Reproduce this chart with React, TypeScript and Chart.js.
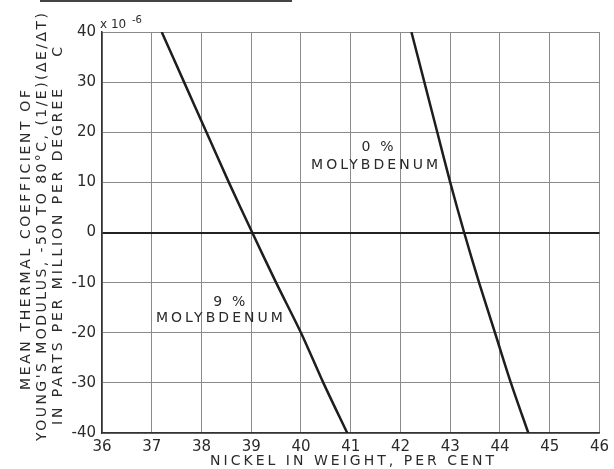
import React, { useEffect, useRef } from "react";
import { Chart, registerables } from "chart.js";

Chart.register(...registerables);

const xTicks = [36, 37, 38, 39, 40, 41, 42, 43, 44, 45, 46];
const yTicks = [-40, -30, -20, -10, 0, 10, 20, 30, 40];

const moly9X = [37.2, 37.65, 38.1, 38.55, 39.02, 39.5, 40.0, 40.45, 40.93];
const moly9Y = [40, 30, 20, 10, 0, -10, -20, -30, -40];

const moly0X = [42.22, 42.48, 42.74, 43.0, 43.28, 43.58, 43.9, 44.22, 44.57];
const moly0Y = [40, 30, 20, 10, 0, -10, -20, -30, -40];

const yTitleLines = [
  "MEAN THERMAL COEFFICIENT OF",
  "YOUNG'S MODULUS, -50 TO 80°C, (1/E)(ΔE/ΔT)",
  "IN PARTS PER MILLION PER DEGREE    C",
];
const xTitle = "NICKEL IN WEIGHT, PER CENT";
const label0 = ["0 %", "MOLYBDENUM"];
const label9 = ["9 %", "MOLYBDENUM"];

const FONT = "DejaVu Sans";
const INK = "#2a2a2a";

function fitText(ctx: CanvasRenderingContext2D, text: string, cx: number, cy: number, width: number) {
  (ctx as any).letterSpacing = "0px";
  const natural = ctx.measureText(text).width;
  const n = text.length;
  const sp = n > 1 ? (width - natural) / (n - 1) : 0;
  (ctx as any).letterSpacing = sp + "px";
  const w = ctx.measureText(text).width - sp;
  ctx.textAlign = "left";
  ctx.textBaseline = "middle";
  ctx.fillText(text, cx - w / 2, cy);
  (ctx as any).letterSpacing = "0px";
}

const textPlugin = {
  id: "texts",
  afterDraw(chart: any) {
    const ctx: CanvasRenderingContext2D = chart.ctx;
    const xs = chart.scales.x;
    const ys = chart.scales.y;
    ctx.save();
    // scan artifact bar at top
    ctx.fillStyle = "#444";
    ctx.fillRect(40, 0, 252, 2);
    ctx.fillStyle = INK;

    // y title (rotated)
    ctx.font = `14px "${FONT}"`;
    const yLines = [
      { t: yTitleLines[0], x: 26, cy: 240, w: 300 },
      { t: yTitleLines[1], x: 42, cy: 227, w: 428 },
      { t: yTitleLines[2], x: 58, cy: 236, w: 378 },
    ];
    for (const l of yLines) {
      ctx.save();
      ctx.translate(l.x, l.cy);
      ctx.rotate(-Math.PI / 2);
      fitText(ctx, l.t, 0, 0, l.w);
      ctx.restore();
    }

    // x title
    ctx.font = `14px "${FONT}"`;
    fitText(ctx, xTitle, 352, 461, 284);

    // x10^-6
    ctx.font = `12px "${FONT}"`;
    ctx.textAlign = "left";
    ctx.textBaseline = "middle";
    ctx.fillText("x 10", 100, 25);
    ctx.font = `10px "${FONT}"`;
    ctx.fillText("-6", 132, 20);

    // series labels
    ctx.font = `14px "${FONT}"`;
    fitText(ctx, label0[0], xs.getPixelForValue(41.54), ys.getPixelForValue(17), 32);
    fitText(ctx, label0[1], xs.getPixelForValue(41.48), ys.getPixelForValue(13.4), 127);
    fitText(ctx, label9[0], xs.getPixelForValue(38.56), ys.getPixelForValue(-14), 32);
    fitText(ctx, label9[1], xs.getPixelForValue(38.36), ys.getPixelForValue(-17.2), 127);
    ctx.restore();
  },
};

export default function App() {
  const ref = useRef<HTMLCanvasElement | null>(null);
  useEffect(() => {
    document.body.style.margin = "0";
    document.body.style.background = "#fff";
    const canvas = ref.current!;
    const chart = new Chart(canvas, {
      type: "scatter",
      data: {
        datasets: [
          {
            label: "9% Molybdenum",
            data: moly9X.map((x, i) => ({ x, y: moly9Y[i] })),
            showLine: true,
            borderColor: "#1e1e1e",
            borderWidth: 2.5,
            pointRadius: 0,
            tension: 0.3,
          },
          {
            label: "0% Molybdenum",
            data: moly0X.map((x, i) => ({ x, y: moly0Y[i] })),
            showLine: true,
            borderColor: "#1e1e1e",
            borderWidth: 2.5,
            pointRadius: 0,
            tension: 0.3,
          },
        ],
      },
      options: {
        animation: false,
        responsive: false,
        maintainAspectRatio: false,
        events: [],
        layout: { padding: { top: 32, right: 11, left: 0, bottom: 0 } },
        plugins: { legend: { display: false }, tooltip: { enabled: false }, title: { display: false } },
        scales: {
          x: {
            type: "linear",
            min: xTicks[0],
            max: xTicks[xTicks.length - 1],
            afterBuildTicks: (s: any) => { s.ticks = xTicks.map((v) => ({ value: v })); },
            afterFit: (s: any) => { s.height = 36; },
            border: { display: true, color: "#333", width: 1.5 },
            grid: { color: "#8a8a8a", lineWidth: 1, drawTicks: false },
            ticks: {
              color: INK,
              font: { family: FONT, size: 15 },
              padding: 5,
              maxRotation: 0,
              autoSkip: false,
            },
          },
          y: {
            type: "linear",
            min: yTicks[0],
            max: yTicks[yTicks.length - 1],
            afterBuildTicks: (s: any) => { s.ticks = yTicks.map((v) => ({ value: v })); },
            afterFit: (s: any) => { s.width = 102; },
            border: { display: true, color: "#333", width: 1.5 },
            grid: {
              color: (c: any) => (c.tick && c.tick.value === 0 ? "#222" : "#8a8a8a"),
              lineWidth: (c: any) => (c.tick && c.tick.value === 0 ? 2 : 1),
              drawTicks: false,
            },
            ticks: {
              color: INK,
              font: { family: FONT, size: 15 },
              padding: 6,
              autoSkip: false,
            },
          },
        },
      },
      plugins: [textPlugin],
    } as any);
    return () => chart.destroy();
  }, []);
  return (
    <div style={{ width: 614, height: 469 }}>
      <canvas ref={ref} width={614} height={469} style={{ display: "block", width: 614, height: 469 }} />
    </div>
  );
}
